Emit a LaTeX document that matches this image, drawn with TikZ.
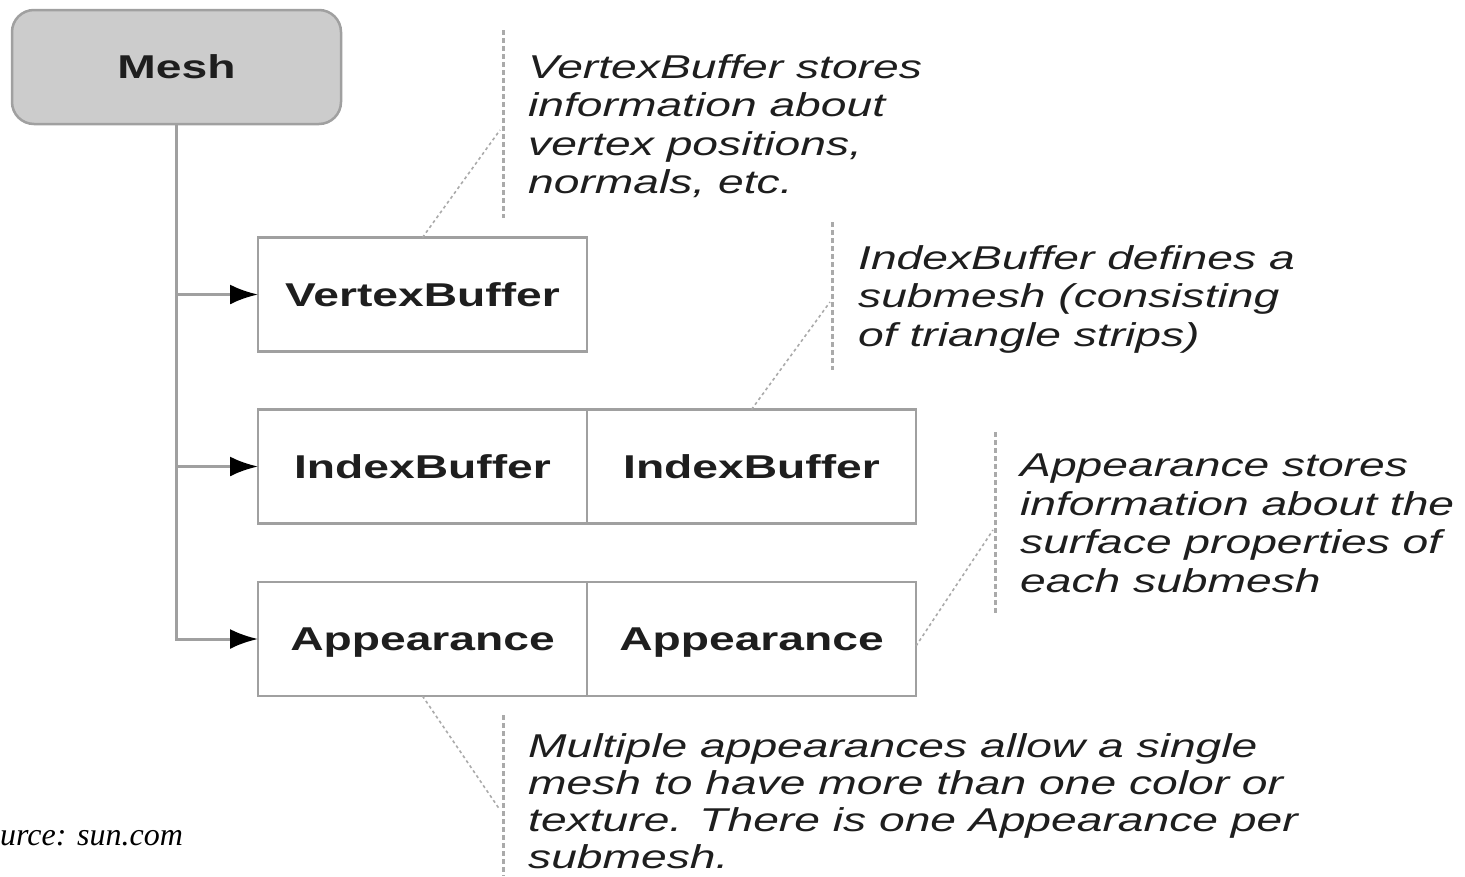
\documentclass[tikz,border=0pt]{standalone}
\usepackage{fontspec}
\setmainfont{Liberation Sans}
\newfontfamily\widesans[FakeStretch=1.4]{Liberation Sans}
\newfontfamily\srcfont{Liberation Serif}
\usetikzlibrary{arrows.meta,positioning}
\definecolor{meshgray}{RGB}{204,204,204}
\definecolor{linegray}{RGB}{160,160,160}
\definecolor{dashgray}{RGB}{170,170,170}
\definecolor{textgray}{RGB}{30,30,30}

\begin{document}
\begin{tikzpicture}[x=1pt, y=-1pt,
		box/.style={draw=linegray, line width=2.5pt, minimum width=329pt, minimum height=114pt,
			inner sep=0pt, outer sep=0pt, text depth=0pt, text=textgray,
			font=\widesans\bfseries\fontsize{33}{40}\selectfont},
		meshbox/.style={box, fill=meshgray, rounded corners=22pt},
		note/.style={anchor=north west, inner sep=0pt, align=left, text=textgray,
			font=\widesans\itshape\fontsize{33}{38.5}\selectfont},
		branch/.style={draw=linegray, line width=3pt, -{Latex[color=black, length=28pt, width=20pt]}},
		notebar/.style={draw=dashgray, line width=3pt, dash pattern=on 5pt off 3pt},
		pointer/.style={draw=dashgray, line width=1.6pt, dash pattern=on 3pt off 3pt}]
	\useasboundingbox (0,0) rectangle (1465,876);
	% Kaesten
	\node[meshbox] (mesh) at (176.5,67) {Mesh};
	\node[box] (vb) at (422.5,294.5) {VertexBuffer};
	\node[box] (ib1) at (422.5,466.5) {IndexBuffer};
	\node[box, right=0pt of ib1] (ib2) {IndexBuffer};
	\node[box] (ap1) at (422.5,639) {Appearance};
	\node[box, right=0pt of ap1] (ap2) {Appearance};
	% Verbindungen
	\foreach \b in {vb,ib1,ap1} \draw[branch] (mesh.south) |- (\b.west);
	% Anmerkungen
	\node[note] (vbnote) at (528,54) {VertexBuffer stores\\information about\\vertex positions,\\normals, etc.};
	\node[note] (ibnote) at (858,245) {IndexBuffer defines a\\submesh (consisting\\of triangle strips)};
	\node[note] (apnote) at (1020,454) {Appearance stores\\information about the\\surface properties of\\each submesh};
	\node[note, font=\widesans\itshape\fontsize{33}{37}\selectfont] (munote) at (528,733) {Multiple appearances allow a single\\mesh to have more than one color or\\texture. There is one Appearance per\\submesh.};
	% gestrichelte Balken
	\draw[notebar] (503,30) -- (503,218);
	\draw[notebar] (832,222) -- (832,370);
	\draw[notebar] (995,432) -- (995,615);
	\draw[notebar] (503,715) -- (503,876);
	% Zeiger
	\coordinate (vbtip) at (500,130);
	\coordinate (ibtip) at (830,302);
	\coordinate (aptip) at (993,530);
	\coordinate (mutip) at (500,810);
	\draw[pointer] (vb.north) -- (vbtip);
	\draw[pointer] (ib2.north) -- (ibtip);
	\draw[pointer] ([yshift=-7pt]ap2.east) -- (aptip);
	\draw[pointer] (ap1.south) -- (mutip);
	% Quelle
	\node[anchor=base west, inner sep=0pt, font=\srcfont\itshape\fontsize{32}{36}\selectfont] (src) at (0,845) {urce: sun.com};
\end{tikzpicture}
\end{document}
